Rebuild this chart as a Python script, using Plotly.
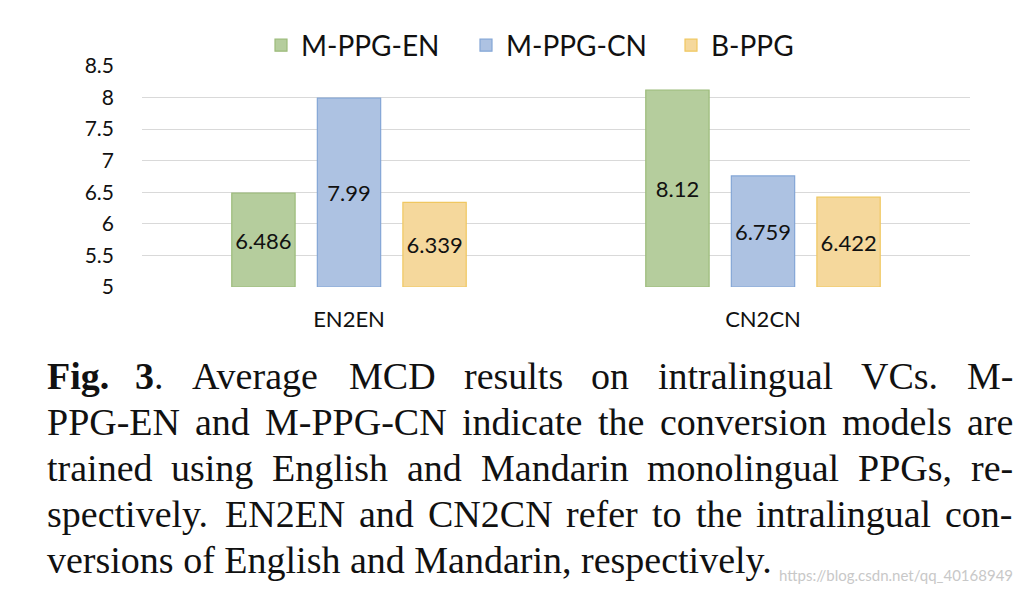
import plotly.graph_objects as go

categories = ["EN2EN", "CN2CN"]
series_names = ["M-PPG-EN", "M-PPG-CN", "B-PPG"]
m_ppg_en = [6.486, 8.12]
m_ppg_cn = [7.99, 6.759]
b_ppg = [6.339, 6.422]
y_ticks = [5, 5.5, 6, 6.5, 7, 7.5, 8, 8.5]
y_tick_labels = ["5", "5.5", "6", "6.5", "7", "7.5", "8", "8.5"]

caption_lines = [
    "Fig. 3. Average MCD results on intralingual VCs. M-",
    "PPG-EN and M-PPG-CN indicate the conversion models are",
    "trained using English and Mandarin monolingual PPGs, re-",
    "spectively. EN2EN and CN2CN refer to the intralingual con-",
    "versions of English and Mandarin, respectively.",
]

fills = ["#b5cd9d", "#adc2e2", "#f5d89c"]
borders = ["#9cbb7a", "#84a6d6", "#f0c760"]
sans = "Lato, 'Open Sans', sans-serif"
serif = "'Liberation Serif', 'Times New Roman', serif"
cap_size = 38

# Times advance widths (1/1000 em), used to justify the caption lines
TIMES = dict(zip("abcdefghijklmnopqrstuvwxyz",
                 [444, 500, 444, 500, 444, 333, 500, 500, 278, 278, 500, 278, 778,
                  500, 500, 500, 500, 333, 389, 278, 500, 500, 722, 500, 500, 444]))
TIMES.update(zip("ABCDEFGHIJKLMNOPQRSTUVWXYZ",
                 [722, 667, 667, 722, 611, 556, 722, 722, 333, 389, 722, 611, 889,
                  722, 722, 556, 722, 667, 556, 611, 722, 722, 944, 722, 722, 611]))
TIMES.update({c: 500 for c in "0123456789"})
TIMES.update({".": 250, ",": 250, "-": 333, " ": 250})


def text_w(s):
    return sum(TIMES.get(c, 500) for c in s) * cap_size / 1000


# page offset of the html body (~8px) is compensated in the margins
L, T, W, H = 142 - 8, 61 - 8, 828, 226


def px(x):
    return (x - 142) / W


def py(y):
    return (287 - y) / H


fig = go.Figure()
for name, vals, fc, lc in zip(series_names, [m_ppg_en, m_ppg_cn, b_ppg], fills, borders):
    fig.add_trace(go.Bar(
        x=categories,
        y=[v - 5 for v in vals],
        base=5,
        name=name,
        text=[str(v) for v in vals],
        textposition="inside",
        insidetextanchor="middle",
        textangle=0,
        textfont=dict(family=sans, size=22, color="#111111"),
        marker=dict(color=fc, line=dict(color=lc, width=1.2)),
        hoverinfo="skip",
    ))

ann = []
left, right = 45, 1011
for i, line in enumerate(caption_lines):
    y = py(378 + 47 * i)
    words = line.split(" ")
    if i == len(caption_lines) - 1:
        ann.append(dict(text=line, xref="paper", yref="paper", x=px(left), y=y,
                        xanchor="left", yanchor="middle", showarrow=False,
                        font=dict(family=serif, size=cap_size, color="#111111")))
        continue
    widths = [text_w(w) for w in words]
    gap = (right - left - sum(widths)) / (len(words) - 1)
    x = left
    for j, (w, ww) in enumerate(zip(words, widths)):
        label = w
        if i == 0 and j == 0:
            label = "<b>Fig.</b>"
        elif i == 0 and j == 1:
            label = "<b>3</b>."
        ann.append(dict(text=label, xref="paper", yref="paper", x=px(x), y=y,
                        xanchor="left", yanchor="middle", showarrow=False,
                        font=dict(family=serif, size=cap_size, color="#111111")))
        x += ww + gap

ann.append(dict(
    text="https://blog.csdn.net/qq_40168949", xref="paper", yref="paper",
    x=px(1015), y=py(582), xanchor="right", yanchor="middle",
    showarrow=False, font=dict(family=sans, size=15, color="#c8c8c8"),
))

fig.update_layout(
    width=1024, height=602,
    margin=dict(l=L, r=1024 - L - W, t=T, b=602 - T - H),
    paper_bgcolor="white", plot_bgcolor="white",
    barmode="group", bargap=0.38, bargroupgap=0.26,
    showlegend=True,
    legend=dict(orientation="h", x=px(261), y=py(40), xanchor="left", yanchor="middle",
                font=dict(family=sans, size=28, color="#111111"), itemwidth=30,
                entrywidth=160, entrywidthmode="pixels", traceorder="normal"),
    xaxis=dict(showgrid=False, showline=False, ticks="", ticklabelstandoff=17,
               tickfont=dict(family=sans, size=22, color="#111111")),
    yaxis=dict(range=[5, 8.5], tickvals=y_ticks, ticktext=y_tick_labels,
               showgrid=True, gridcolor="#d9d9d9", gridwidth=1, zeroline=False,
               showline=False, ticks="", ticklabelstandoff=27,
               tickfont=dict(family=sans, size=21, color="#111111")),
    annotations=ann,
)

fig.write_html("out.html")
